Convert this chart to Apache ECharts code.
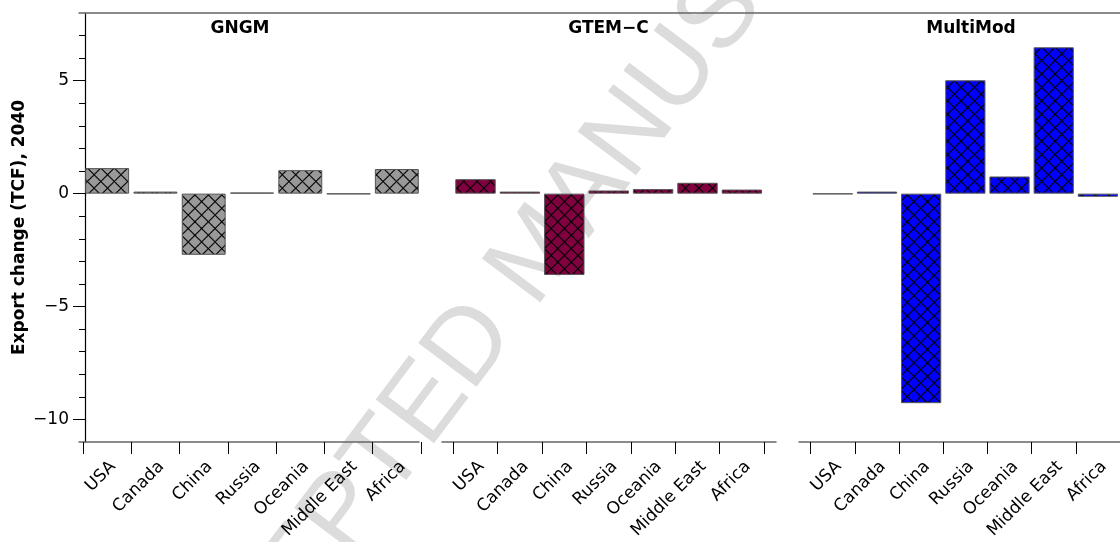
<!DOCTYPE html>
<html>
<head>
<meta charset="utf-8">
<script src="https://cdn.jsdelivr.net/npm/echarts@6/dist/echarts.min.js"></script>
<style>
html,body{margin:0;padding:0;background:#fff;}
#chart{width:1120px;height:542px;}
</style>
</head>
<body>
<div id="chart"></div>
<script>
const categories = ['USA', 'Canada', 'China', 'Russia', 'Oceania', 'Middle East', 'Africa'];
const panelNames = ['GNGM', 'GTEM\u2212C', 'MultiMod'];
const gngm = [1.13, 0.09, -2.71, 0.05, 1.04, -0.02, 1.09];
const gtemc = [0.64, 0.09, -3.60, 0.14, 0.20, 0.48, 0.18];
const multimod = [-0.02, 0.09, -9.28, 5.02, 0.76, 6.48, -0.14];
const majorTicks = [-10, -5, 0, 5];
const minorTicks = [-9, -8, -7, -6, -4, -3, -2, -1, 1, 2, 3, 4, 6, 7];
const yMin = -11, yMax = 8;

function hatch(fill) {
  const s = 21;
  const c = document.createElement('canvas');
  c.width = s; c.height = s;
  const g = c.getContext('2d');
  g.fillStyle = fill; g.fillRect(0, 0, s, s);
  g.strokeStyle = '#000'; g.lineWidth = 1.6;
  g.beginPath();
  g.moveTo(-2, -2); g.lineTo(s + 2, s + 2);
  g.moveTo(s + 2, -2); g.lineTo(-2, s + 2);
  g.stroke();
  return { image: c, repeat: 'repeat', scaleX: 0.64, scaleY: 0.64 };
}

const FONT = 'DejaVu Sans';
const gTop = 13, gHeight = 429;
const dataGrids = [
  { left: 83, top: gTop, width: 338, height: gHeight },
  { left: 453.3, top: gTop, width: 310.8, height: gHeight },
  { left: 810.7, top: gTop, width: 310.8, height: gHeight }
];
const frameGrids = [
  { left: 79, top: gTop, width: 340, height: gHeight },
  { left: 442, top: gTop, width: 334, height: gHeight },
  { left: 799, top: gTop, width: 334, height: gHeight },
  { left: 79, top: gTop, width: 1054, height: gHeight }
];

const xAxes = [];
const yAxes = [];
for (let i = 0; i < 3; i++) {
  xAxes.push({
    type: 'category', gridIndex: i, data: categories, position: 'bottom',
    axisLine: { show: false, onZero: false },
    axisTick: { show: true, length: 12, lineStyle: { color: '#000', width: 1 } },
    axisLabel: { rotate: 45, fontSize: 17, fontFamily: FONT, color: '#000', margin: 16, interval: 0,
      verticalAlign: 'top' },
    splitLine: { show: false }
  });
}
for (let i = 0; i < 4; i++) {
  xAxes.push({
    type: 'value', gridIndex: 3 + i, min: 0, max: 1,
    position: i === 3 ? 'top' : 'bottom',
    axisLine: { show: true, onZero: false, lineStyle: { color: '#666', width: 1.5 } },
    axisTick: { show: false }, axisLabel: { show: false }, splitLine: { show: false }
  });
}
yAxes.push({
  type: 'value', gridIndex: 0, min: yMin, max: yMax, position: 'left', offset: -2,
  name: 'Export change (TCF), 2040', nameLocation: 'middle', nameGap: 57,
  nameTextStyle: { fontSize: 17, fontWeight: 'bold', fontFamily: FONT, color: '#000' },
  axisLine: { show: true, onZero: false, lineStyle: { color: '#000', width: 1.2 } },
  axisTick: { show: true, length: 12, customValues: majorTicks, lineStyle: { color: '#000' } },
  axisLabel: { fontSize: 17, fontFamily: FONT, color: '#000', margin: 16, customValues: majorTicks,
    formatter: v => (v < 0 ? '\u2212' + Math.abs(v) : String(v)) },
  splitLine: { show: false }
});
yAxes.push({
  type: 'value', gridIndex: 0, min: yMin, max: yMax, position: 'left', offset: -2,
  axisLine: { show: false, onZero: false },
  axisTick: { show: true, length: 6, customValues: minorTicks, lineStyle: { color: '#000' } },
  axisLabel: { show: false }, splitLine: { show: false }
});
yAxes.push({ type: 'value', gridIndex: 1, min: yMin, max: yMax, show: false });
yAxes.push({ type: 'value', gridIndex: 2, min: yMin, max: yMax, show: false });
for (let i = 0; i < 4; i++) {
  yAxes.push({ type: 'value', gridIndex: 3 + i, min: 0, max: 1, show: false });
}

const seriesData = [gngm, gtemc, multimod];
const fills = ['#999999', '#800040', '#0000ff'];
const yIdx = [0, 2, 3];
const series = seriesData.map((d, i) => ({
  type: 'bar', name: panelNames[i], xAxisIndex: i, yAxisIndex: yIdx[i],
  data: d, barCategoryGap: '9%',
  itemStyle: { color: hatch(fills[i]), borderColor: '#555', borderWidth: 1 },
  emphasis: { disabled: true },
  z: 3
}));

const titleX = [240, 608.5, 971];
const graphic = [
  {
    type: 'text', x: 540, y: 254, rotation: 53 * Math.PI / 180, z: -10, silent: true,
    style: { text: 'ACCEPTED MANUSCRIPT', fontSize: 106, fontFamily: 'Liberation Sans',
      fill: '#dcdcdc', align: 'center', verticalAlign: 'middle' }
  }
].concat(panelNames.map((t, i) => ({
  type: 'text', x: titleX[i], y: 29, z: 10,
  style: { text: t, fontSize: 17, fontWeight: 'bold', fontFamily: FONT, fill: '#000',
    align: 'center', verticalAlign: 'middle' }
})));

const chart = echarts.init(document.getElementById('chart'), null, { renderer: 'canvas' });
chart.setOption({
  animation: false,
  backgroundColor: '#fff',
  grid: dataGrids.concat(frameGrids),
  xAxis: xAxes,
  yAxis: yAxes,
  series: series,
  graphic: graphic
});
</script>
</body>
</html>
